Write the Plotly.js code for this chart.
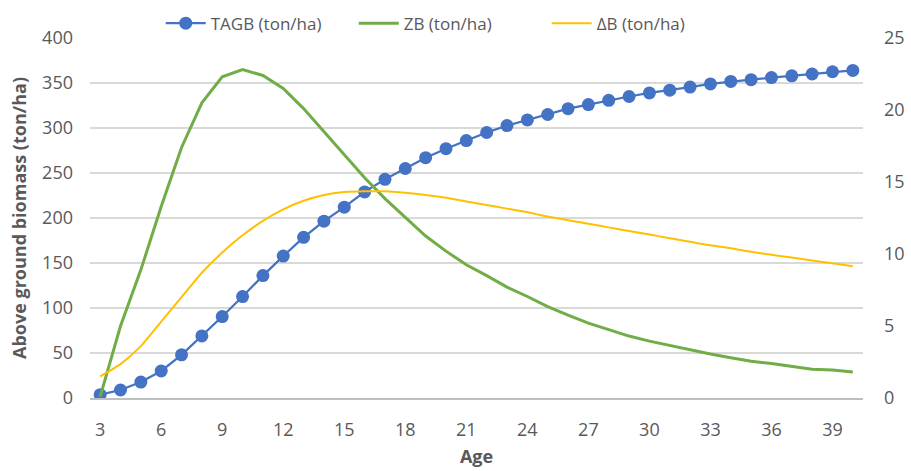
<!DOCTYPE html>
<html>
<head>
<meta charset="utf-8">
<script src="https://cdn.plot.ly/plotly-3.0.1.min.js"></script>
<style>html,body{margin:0;padding:0;background:#fff;}#chart{width:911px;height:471px;}</style>
</head>
<body>
<div id="chart"></div>
<script>
var ages = [3,4,5,6,7,8,9,10,11,12,13,14,15,16,17,18,19,20,21,22,23,24,25,26,27,28,29,30,31,32,33,34,35,36,37,38,39,40];
var tagb = [3.7,8.9,17.7,30,48,69,90.5,112.7,136,157.7,178.5,196.5,212,229,243,255,267,277,286,295,302.7,309,315,321.5,326,330.7,335,339,342,345.5,349,351.7,353.7,356,358,360,362.5,364];
var zb = [0.1,5.0,8.9,13.3,17.4,20.5,22.3,22.8,22.4,21.5,20.1,18.5,16.9,15.3,13.85,12.55,11.25,10.2,9.25,8.5,7.7,7.05,6.35,5.75,5.2,4.75,4.3,3.95,3.65,3.3,3.05,2.8,2.55,2.4,2.2,2.0,1.95,1.8];
var db = [1.5,2.35,3.6,5.3,7.0,8.7,10.1,11.3,12.3,13.1,13.7,14.1,14.3,14.35,14.35,14.25,14.1,13.9,13.65,13.4,13.15,12.9,12.6,12.35,12.1,11.85,11.6,11.35,11.1,10.85,10.6,10.4,10.15,9.95,9.75,9.55,9.35,9.15];
var xTicks = [3,6,9,12,15,18,21,24,27,30,33,36,39];
var leftTicks = [0,50,100,150,200,250,300,350,400];
var rightTicks = [0,5,10,15,20,25];
var seriesNames = ['TAGB (ton/ha)','ZB (ton/ha)','\u0394B (ton/ha)'];
var xTitle = 'Age';
var yTitle = 'Above ground biomass (ton/ha)';

var FONT = 'Open Sans, Noto Sans, sans-serif';
var GRAY = '#595959';

var traces = [
  {x: ages, y: tagb, name: seriesNames[0], type: 'scatter', mode: 'lines+markers',
   line: {color: '#4472C4', width: 2.25}, marker: {color: '#4472C4', size: 13}},
  {x: ages, y: zb, name: seriesNames[1], type: 'scatter', mode: 'lines', yaxis: 'y2',
   line: {color: '#70AD47', width: 3}},
  {x: ages, y: db, name: seriesNames[2], type: 'scatter', mode: 'lines', yaxis: 'y2',
   line: {color: '#FFC000', width: 2, shape: 'spline', smoothing: 0.6}}
];

var layout = {
  width: 911, height: 471,
  margin: {l: 90, r: 48, t: 38, b: 72.5, autoexpand: false},
  paper_bgcolor: '#ffffff', plot_bgcolor: '#ffffff',
  font: {family: FONT, color: GRAY, size: 18},
  showlegend: true,
  legend: {orientation: 'h', x: 0.0915, xanchor: 'left', y: 1.04, yanchor: 'middle',
           font: {family: FONT, size: 17, color: GRAY}, itemwidth: 40,
           entrywidth: 138, entrywidthmode: 'pixels', tracegroupgap: 0},
  xaxis: {range: [2.5, 40.5], tickvals: xTicks, ticktext: xTicks.map(String), automargin: false,
          showgrid: false, zeroline: false, showline: true, linecolor: '#bfbfbf', linewidth: 2,
          ticks: '', ticklabelstandoff: 14, tickfont: {size: 18, color: GRAY},
          title: {text: xTitle, font: {size: 18, color: GRAY, weight: 'bold'}}},
  yaxis: {range: [0, 400], tickvals: leftTicks, showgrid: true, gridcolor: '#d9d9d9', gridwidth: 1.5,
          automargin: false, zeroline: false, showline: false, ticks: '', ticklabelstandoff: 16,
          tickfont: {size: 18, color: GRAY},
          title: {text: yTitle, font: {size: 18, color: GRAY, weight: 'bold'}, standoff: 10}},
  yaxis2: {range: [0, 25], tickvals: rightTicks, overlaying: 'y', side: 'right', showgrid: false,
           automargin: false, zeroline: false, showline: false, ticks: '', ticklabelstandoff: 20,
           tickfont: {size: 18, color: GRAY}}
};

Plotly.newPlot('chart', traces, layout, {displayModeBar: false, staticPlot: true});
</script>
</body>
</html>
